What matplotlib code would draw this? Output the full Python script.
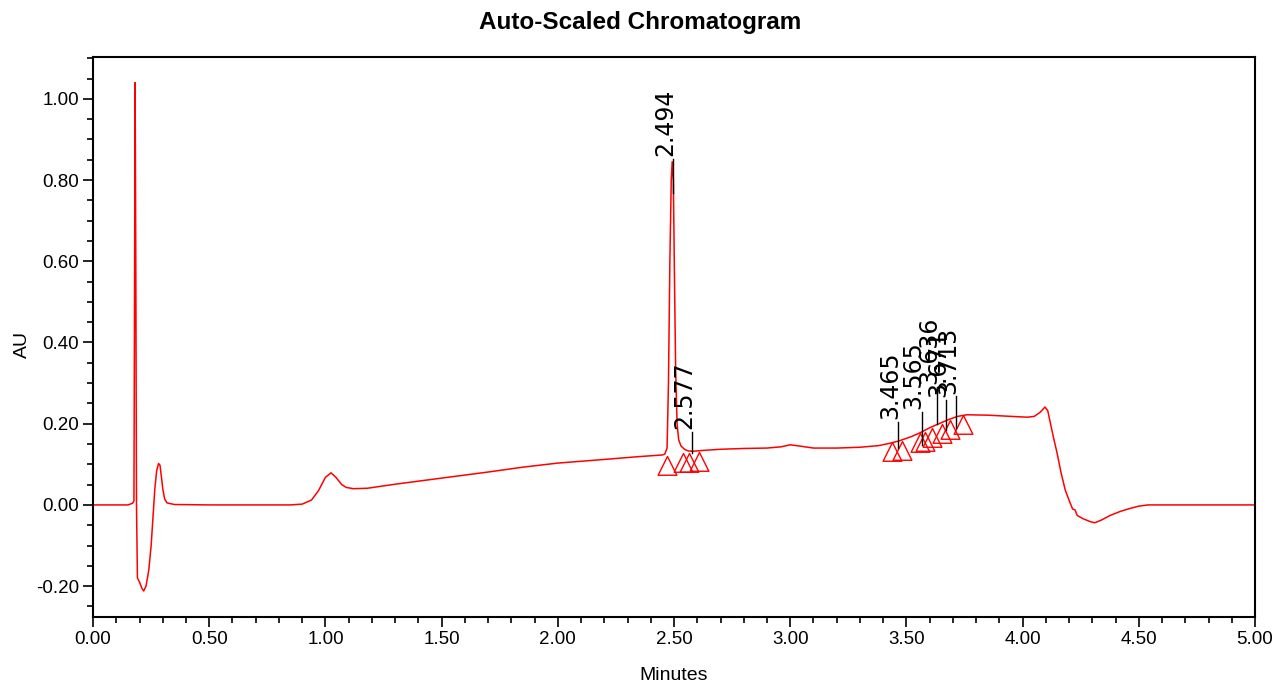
import matplotlib
matplotlib.use("Agg")
import matplotlib.pyplot as plt
from matplotlib.path import Path
from matplotlib.ticker import MultipleLocator, FixedLocator

# ---- data ----
time_min = [0.00, 0.15, 0.170, 0.176, 0.179, 0.181, 0.184, 0.187, 0.191, 0.200,
             0.210, 0.218, 0.228, 0.240, 0.250, 0.258, 0.266, 0.274, 0.282, 0.288,
             0.294, 0.300, 0.308, 0.318, 0.35, 0.50, 0.85, 0.90, 0.94, 0.97,
             1.00, 1.024, 1.045, 1.07, 1.09, 1.12, 1.18, 1.30, 1.50, 1.70,
             1.85, 2.00, 2.20, 2.35, 2.45, 2.460, 2.470, 2.476, 2.482, 2.488,
             2.492, 2.497, 2.502, 2.507, 2.513, 2.520, 2.530, 2.545, 2.560, 2.58,
             2.62, 2.70, 2.80, 2.90, 2.96, 3.00, 3.04, 3.10, 3.20, 3.30,
             3.38, 3.43, 3.47, 3.52, 3.56, 3.60, 3.64, 3.68, 3.72, 3.76,
             3.85, 3.95, 4.02, 4.05, 4.075, 4.096, 4.108, 4.118, 4.133, 4.148,
             4.165, 4.183, 4.204, 4.215, 4.225, 4.235, 4.26, 4.29, 4.31, 4.34,
             4.376, 4.42, 4.46, 4.50, 4.54, 5.00]
absorbance = [0.000, 0.000, 0.004, 0.010, 0.600, 1.040, 0.600, 0.000, -0.180, -0.190,
              -0.205, -0.212, -0.200, -0.160, -0.100, -0.030, 0.040, 0.085, 0.102, 0.098,
              0.070, 0.040, 0.015, 0.005, 0.001, 0.000, 0.000, 0.002, 0.012, 0.035,
              0.068, 0.079, 0.068, 0.050, 0.043, 0.040, 0.041, 0.051, 0.066, 0.081,
              0.093, 0.103, 0.112, 0.119, 0.123, 0.125, 0.140, 0.300, 0.600, 0.800,
              0.845, 0.800, 0.550, 0.330, 0.200, 0.160, 0.145, 0.137, 0.133, 0.132,
              0.134, 0.137, 0.139, 0.140, 0.143, 0.148, 0.145, 0.140, 0.140, 0.142,
              0.146, 0.152, 0.158, 0.168, 0.178, 0.190, 0.200, 0.210, 0.218, 0.222,
              0.221, 0.218, 0.216, 0.218, 0.228, 0.241, 0.232, 0.205, 0.165, 0.128,
              0.080, 0.037, 0.005, -0.010, -0.012, -0.026, -0.034, -0.041, -0.044, -0.037,
              -0.026, -0.016, -0.009, -0.003, 0.000, 0.000]

# integration markers (peak start / end points)
marker_time = [2.468, 2.540, 2.565, 2.607, 3.436, 3.479, 3.558, 3.580, 3.609, 3.652, 3.688, 3.745]
marker_au = [0.121, 0.128, 0.129, 0.130, 0.156, 0.158, 0.176, 0.180, 0.190, 0.200, 0.210, 0.222]

# peak labels: retention time, label-line bottom, label-line top
peak_labels = ["2.494", "2.577", "3.465", "3.565", "3.636", "3.671", "3.713"]
peak_rt = [2.494, 2.577, 3.465, 3.565, 3.630, 3.670, 3.713]
line_bottom = [0.768, 0.128, 0.140, 0.148, 0.200, 0.185, 0.190]
line_top = [0.852, 0.180, 0.205, 0.230, 0.290, 0.258, 0.267]

x_ticks = [0.00, 0.50, 1.00, 1.50, 2.00, 2.50, 3.00, 3.50, 4.00, 4.50, 5.00]
y_ticks = [-0.20, 0.00, 0.20, 0.40, 0.60, 0.80, 1.00]

sans = ["Liberation Sans", "DejaVu Sans"]

fig = plt.figure(figsize=(12.85, 6.90), dpi=100)
ax = fig.add_axes([0.0724, 0.1058, 0.9043, 0.8116])

ax.plot(time_min, absorbance, color="#ff0000", lw=1.1, solid_joinstyle="round")

tri = Path([(0, 0), (-0.5, -1.0), (0.5, -1.0), (0, 0)],
           [Path.MOVETO, Path.LINETO, Path.LINETO, Path.CLOSEPOLY])
ax.plot(marker_time, marker_au, linestyle="none", marker=tri, markersize=27,
        markerfacecolor="none", markeredgecolor="#ff0000", markeredgewidth=1.0)

for lab, rt, yb, yt in zip(peak_labels, peak_rt, line_bottom, line_top):
    ax.plot([rt, rt], [yb, yt], color="black", lw=1.0)
    ax.annotate(lab, xy=(rt, yt), xytext=(3, 2), textcoords="offset points",
                rotation=90, ha="right", va="bottom", fontsize=17,
                family="DejaVu Sans", color="black")

ax.set_xlim(0, 5.0)
ax.set_ylim(-0.276, 1.103)

ax.xaxis.set_major_locator(FixedLocator(x_ticks))
ax.xaxis.set_minor_locator(MultipleLocator(0.1))
ax.yaxis.set_major_locator(FixedLocator(y_ticks))
ax.yaxis.set_minor_locator(MultipleLocator(0.05))
ax.set_xticklabels([f"{v:.2f}" for v in x_ticks])
ax.set_yticklabels([f"{v:.2f}" for v in y_ticks])

ax.tick_params(axis="both", which="major", direction="out", length=7, width=1.2,
               labelsize=13.5, color="black", pad=3)
ax.tick_params(axis="both", which="minor", direction="out", length=4.5, width=1.2,
               color="black")
for lab in ax.get_xticklabels() + ax.get_yticklabels():
    lab.set_family(sans)

for side in ["top", "right", "left", "bottom"]:
    ax.spines[side].set_linewidth(1.5)
    ax.spines[side].set_color("black")

ax.set_xlabel("Minutes", fontsize=14, family=sans, va="center")
ax.xaxis.set_label_coords(0.5, -0.105)
ax.set_ylabel("AU", fontsize=14, family=sans, va="center")
ax.yaxis.set_label_coords(-0.061, 0.486)

fig.text(0.4985, 0.967, "Auto-Scaled Chromatogram", ha="center", va="center",
         fontsize=17.5, fontweight="bold", family=sans)

fig.savefig("out.png", dpi=100, facecolor="white")
